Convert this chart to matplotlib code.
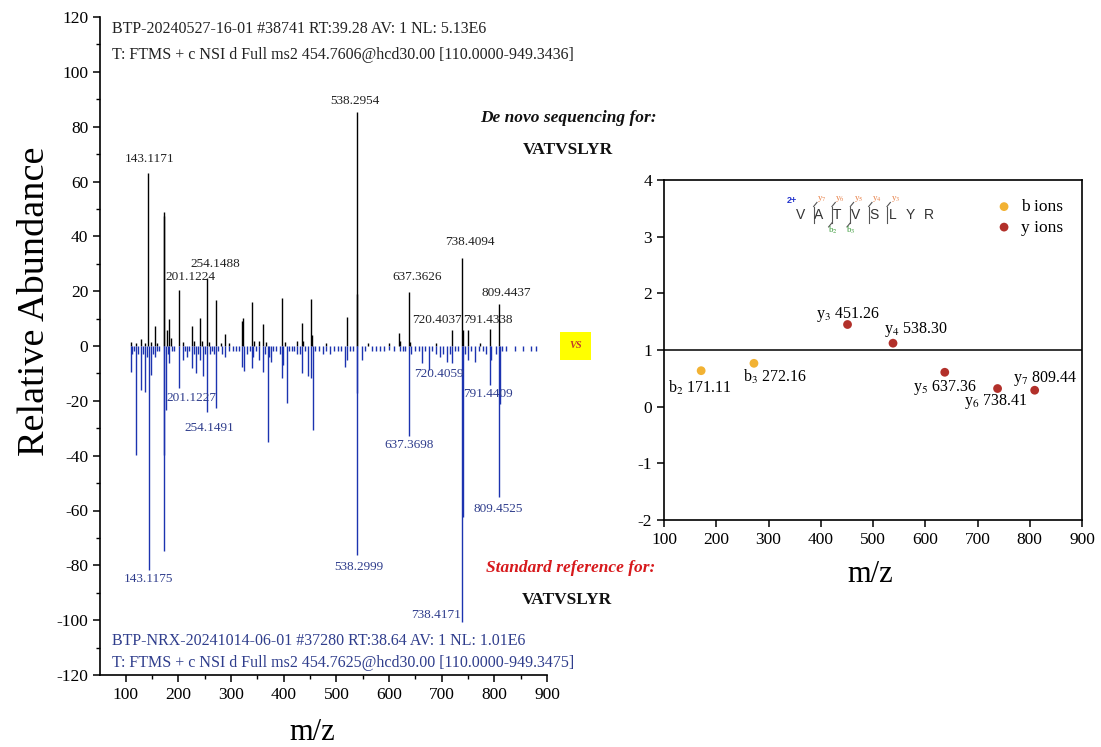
#!/usr/bin/env python

import matplotlib
matplotlib.use('Agg')
import matplotlib.pyplot as plt
from matplotlib.ticker import MultipleLocator

plt.rcParams['font.family'] = ['Liberation Serif', 'DejaVu Serif']
plt.rcParams['mathtext.fontset'] = 'stix'
plt.rcParams['axes.unicode_minus'] = False

# sample spectrum (mirror top, black)
sample_mz = [110.07, 120.08, 128.5, 136.1, 143.1171, 147.1, 155.6, 159.1, 171.9, 172.6,
             179.0, 182.8, 186.0, 201.1224, 209.0, 226.5, 230.0, 241.7, 245.0, 254.1488,
             258.0, 271.5, 280.4, 288.6, 296.0, 321.0, 323.3, 340.4, 344.0, 353.0,
             360.7, 367.0, 397.4, 403.0, 424.7, 434.2, 437.0, 452.0, 454.4, 480.0,
             520.0, 538.2954, 539.6, 560.0, 600.0, 619.5, 621.0, 637.3626, 640.0, 690.0,
             720.4037, 738.4094, 739.6, 750.6, 773.0, 791.4338, 809.4437]
sample_int = [1.5, 1.0, 2.4, 1.2, 63.0, 1.5, 7.3, 1.0, 49.0, 47.5,
              5.8, 9.7, 2.9, 20.4, 1.5, 7.3, 2.0, 10.1, 2.0, 24.7,
              1.5, 16.8, 1.2, 4.4, 1.0, 9.0, 10.1, 16.2, 2.0, 2.0,
              8.0, 1.5, 17.6, 1.5, 2.0, 8.3, 2.0, 17.1, 4.0, 1.0,
              10.7, 85.3, 19.0, 1.0, 1.0, 4.9, 2.0, 19.8, 1.5, 1.0,
              5.8, 32.2, 6.0, 5.8, 1.0, 6.2, 15.3]

# standard reference spectrum (mirror bottom, blue)
ref_mz = [109.5, 112.0, 116.0, 119.6, 124.0, 128.5, 132.0, 136.7, 140.0, 143.1175,
          147.5, 151.0, 155.0, 159.0, 163.0, 172.1, 173.4, 176.5, 179.5, 182.8,
          187.0, 192.0, 201.1227, 208.0, 212.0, 215.8, 220.0, 225.3, 229.0, 233.5,
          237.0, 241.0, 247.4, 251.0, 254.1491, 259.0, 263.0, 267.0, 271.5, 276.0,
          282.0, 288.0, 296.0, 303.0, 310.0, 315.0, 320.0, 324.7, 330.0, 335.0,
          339.3, 342.5, 348.0, 353.7, 360.0, 365.0, 369.6, 372.0, 375.3, 380.0,
          386.0, 392.0, 396.2, 399.3, 405.7, 410.0, 415.0, 420.0, 424.7, 430.0,
          434.8, 440.0, 446.8, 451.3, 455.0, 460.0, 467.0, 475.0, 481.0, 488.0,
          495.0, 502.6, 509.0, 516.5, 519.7, 525.0, 531.0, 538.2999, 539.6, 548.0,
          555.0, 567.0, 575.0, 583.0, 590.0, 600.0, 610.0, 620.0, 626.0, 631.0,
          637.3698, 642.0, 650.0, 656.0, 663.2, 668.0, 676.6, 682.0, 690.0, 696.9,
          703.0, 709.5, 715.0, 720.4059, 726.0, 731.0, 738.4171, 739.6, 744.0, 749.5,
          756.0, 763.4, 770.0, 778.0, 785.0, 791.4409, 793.0, 803.0, 809.4525, 810.7,
          815.0, 822.0, 840.0, 855.0, 870.0, 880.0]
ref_int = [9.6, 3.0, 2.0, 39.8, 3.0, 16.0, 3.0, 16.7, 4.0, 81.7,
           10.6, 3.0, 4.0, 2.0, 2.0, 74.6, 39.8, 23.3, 3.0, 6.2,
           2.0, 2.0, 15.2, 5.0, 2.0, 4.0, 2.0, 8.0, 3.0, 10.0,
           3.0, 5.0, 11.0, 3.0, 24.0, 3.0, 2.0, 3.0, 22.5, 2.0,
           3.0, 4.0, 2.0, 2.0, 2.0, 2.0, 7.5, 9.0, 3.0, 2.0,
           8.0, 4.0, 2.0, 5.0, 9.6, 3.0, 34.9, 4.0, 6.0, 2.0,
           2.0, 3.0, 11.8, 7.0, 20.9, 2.0, 2.0, 2.0, 3.0, 3.0,
           10.0, 2.0, 11.0, 11.8, 30.6, 2.0, 2.0, 3.0, 2.0, 3.0,
           2.0, 2.0, 2.0, 7.5, 5.0, 2.0, 2.0, 76.2, 17.0, 5.0,
           2.0, 2.0, 2.0, 2.0, 2.0, 1.5, 2.0, 2.0, 2.0, 2.0,
           33.0, 3.0, 2.0, 2.0, 6.3, 2.0, 8.8, 2.0, 3.0, 4.0,
           3.0, 6.0, 3.0, 6.2, 2.0, 2.0, 100.5, 62.2, 3.0, 5.0,
           2.0, 6.0, 2.0, 2.0, 3.0, 14.2, 5.0, 3.0, 55.0, 21.0,
           2.0, 2.0, 2.0, 2.0, 2.0, 2.0]

sample_labels = [143.1171, 201.1224, 254.1488, 538.2954, 637.3626,
                 720.4037, 738.4094, 791.4338, 809.4437]
ref_labels = [143.1175, 201.1227, 254.1491, 538.2999, 637.3698,
              720.4059, 738.4171, 791.4409, 809.4525]

# label offsets in pixels (dx, dy)
sample_off = [(1, 14), (11, 13), (8, 14), (-2, 11), (8, 15),
              (-16, 10), (8, 16), (-2, 9), (7, 11)]
ref_off = [(0, -9), (12, -10), (2, -16), (2, -12), (0, -9),
           (-14, -11), (-26, 7), (-2, -9), (-1, -12)]

sample_header = ['BTP-20240527-16-01 #38741 RT:39.28 AV: 1 NL: 5.13E6',
                 'T: FTMS + c NSI d Full ms2 454.7606@hcd30.00 [110.0000-949.3436]']
ref_header = ['BTP-NRX-20241014-06-01 #37280 RT:38.64 AV: 1 NL: 1.01E6',
              'T: FTMS + c NSI d Full ms2 454.7625@hcd30.00 [110.0000-949.3475]']

peptide = 'VATVSLYR'

# fragment ion ratios (right panel)
b_names = ['b$_2$', 'b$_3$']
b_mz = [171.11, 272.16]
b_val = [0.635, 0.765]
y_names = ['y$_3$', 'y$_4$', 'y$_5$', 'y$_6$', 'y$_7$']
y_mz = [451.26, 538.30, 637.36, 738.41, 809.44]
y_val = [1.45, 1.12, 0.607, 0.32, 0.29]
b_off = [(-1, -17), (21, -14)]
y_off = [(0, 10), (23, 14), (0, -15), (-2, -13), (10, 12)]

BLUE = '#1c33b0'
BLUE_TXT = '#2f3d8c'
B_COLOR = '#f2b233'
Y_COLOR = '#b2302a'

W, H = 1101, 747
fig = plt.figure(figsize=(W / 100, H / 100), dpi=100)


def fx(px):
    return px / W


def fy(py):
    return 1 - py / H


# ---- mirror spectrum ----
ax = fig.add_axes([fx(100), fy(675), fx(547) - fx(100), fy(17) - fy(675)])
ax.vlines(sample_mz, 0, sample_int, color='black', lw=1.0)
ax.vlines(ref_mz, 0, [-v for v in ref_int], color=BLUE, lw=1.0)

s_lookup = dict(zip(sample_mz, sample_int))
r_lookup = dict(zip(ref_mz, ref_int))
for mz, (dx, dy) in zip(sample_labels, sample_off):
    ax.annotate('%.4f' % mz, (mz, s_lookup[mz]), xytext=(dx, dy),
                textcoords='offset pixels', ha='center', va='center',
                fontsize=9.5, color='#222222')
for mz, (dx, dy) in zip(ref_labels, ref_off):
    ax.annotate('%.4f' % mz, (mz, -r_lookup[mz]), xytext=(dx, dy),
                textcoords='offset pixels', ha='center', va='center',
                fontsize=9.5, color=BLUE_TXT)

ax.set_xlim(51, 900)
ax.set_ylim(-120, 120)
ax.xaxis.set_minor_locator(MultipleLocator(50))
ax.yaxis.set_major_locator(MultipleLocator(20))
ax.yaxis.set_minor_locator(MultipleLocator(10))
ax.set_xticks(range(100, 901, 100))
ax.spines['top'].set_visible(False)
ax.spines['right'].set_visible(False)
for s in ('left', 'bottom'):
    ax.spines[s].set_linewidth(1.2)
ax.tick_params(which='major', direction='out', length=5, width=1.1, labelsize=12.5)
ax.tick_params(which='minor', direction='out', length=3, width=1.0)

fig.text(fx(35), fy(301), 'Relative Abundance', rotation=90, ha='center',
         va='center', fontsize=27.5)
fig.text(fx(312), fy(732), 'm/z', ha='center', va='center', fontsize=22)

fig.text(fx(112), fy(29), sample_header[0], ha='left', va='center', fontsize=11.5, color='#222222')
fig.text(fx(112), fy(55), sample_header[1], ha='left', va='center', fontsize=11.5, color='#222222')
fig.text(fx(112), fy(641), ref_header[0], ha='left', va='center', fontsize=11.5, color=BLUE_TXT)
fig.text(fx(112), fy(663), ref_header[1], ha='left', va='center', fontsize=11.5, color=BLUE_TXT)

fig.text(fx(568), fy(118), 'De novo sequencing for:', ha='center', va='center',
         fontsize=12.5, fontweight='bold', fontstyle='italic', color='#111111')
fig.text(fx(568), fy(150), peptide, ha='center', va='center',
         fontsize=12.5, fontweight='bold', color='#111111')
fig.text(fx(571), fy(568), 'Standard reference for:', ha='center', va='center',
         fontsize=12.5, fontweight='bold', fontstyle='italic', color='#d7191c')
fig.text(fx(567), fy(600), peptide, ha='center', va='center',
         fontsize=12.5, fontweight='bold', color='#111111')
fig.text(fx(575.5), fy(346), 'VS', ha='center', va='center', fontsize=7.5,
         fontweight='bold', fontstyle='italic', color='#c0392b',
         bbox=dict(boxstyle='square,pad=0.9', fc='#ffff00', ec='none'))

# ---- fragment ion panel ----
ax2 = fig.add_axes([fx(664), fy(520), fx(1082) - fx(664), fy(180) - fy(520)])
ax2.axhline(1, color='black', lw=1.1)
ax2.scatter(b_mz, b_val, s=40, color=B_COLOR, zorder=3, label='b ions', edgecolors='none')
ax2.scatter(y_mz, y_val, s=40, color=Y_COLOR, zorder=3, label='y ions', edgecolors='none')
for name, mz, v, (dx, dy) in zip(b_names, b_mz, b_val, b_off):
    ax2.annotate('%s %.2f' % (name, mz), (mz, v), xytext=(dx, dy),
                 textcoords='offset pixels', ha='center', va='center', fontsize=11.5)
for name, mz, v, (dx, dy) in zip(y_names, y_mz, y_val, y_off):
    ax2.annotate('%s %.2f' % (name, mz), (mz, v), xytext=(dx, dy),
                 textcoords='offset pixels', ha='center', va='center', fontsize=11.5)

ax2.set_xlim(100, 900)
ax2.set_ylim(-2, 4)
ax2.set_xticks(range(100, 901, 100))
ax2.set_yticks(range(-2, 5))
for s in ax2.spines.values():
    s.set_linewidth(1.2)
ax2.tick_params(direction='out', length=5, width=1.1, labelsize=12.5)
leg = ax2.legend(loc='upper left', bbox_to_anchor=(0.745, 0.99), frameon=False,
                 fontsize=12.5, handletextpad=0.25, labelspacing=0.25,
                 markerscale=1.0, handlelength=1.5)
fig.text(fx(870), fy(575), 'm/z', ha='center', va='center', fontsize=22)

# peptide fragmentation map
t2 = ax2.transAxes
seq_x0, seq_dx, seq_y = 0.327, 0.0439, 0.898
letter_x = [seq_x0 + i * seq_dx for i in range(len(peptide))]
for lx, ch in zip(letter_x, peptide):
    ax2.text(lx, seq_y, ch, transform=t2, ha='center', va='center',
             fontsize=10, family='Liberation Sans', color='#333333')
ax2.text(0.305, 0.94, '2+', transform=t2, ha='center', va='center',
         fontsize=6.5, family='Liberation Sans', fontweight='bold', color='#2233cc')
y_ions = ['y$_7$', 'y$_6$', 'y$_5$', 'y$_4$', 'y$_3$']
b_ions = ['b$_2$', 'b$_3$']
for i, yn in enumerate(y_ions):
    cx = letter_x[i + 1] - 0.013
    ax2.plot([cx, cx], [seq_y - 0.024, seq_y + 0.024], transform=t2,
             color='#555555', lw=0.8)
    ax2.plot([cx, cx + 0.008], [seq_y + 0.024, seq_y + 0.036], transform=t2,
             color='#555555', lw=0.8)
    ax2.text(cx + 0.02, seq_y + 0.047, yn, transform=t2, ha='center', va='center',
             fontsize=6.5, color='#e8824a')
    if i in (1, 2):
        ax2.plot([cx, cx - 0.008], [seq_y - 0.024, seq_y - 0.036], transform=t2,
                 color='#555555', lw=0.8)
        ax2.text(cx + 0.002, seq_y - 0.045, b_ions[i - 1], transform=t2, ha='center',
                 va='center', fontsize=6.5, color='#3a9a3a')

fig.savefig('out.png', dpi=100)
